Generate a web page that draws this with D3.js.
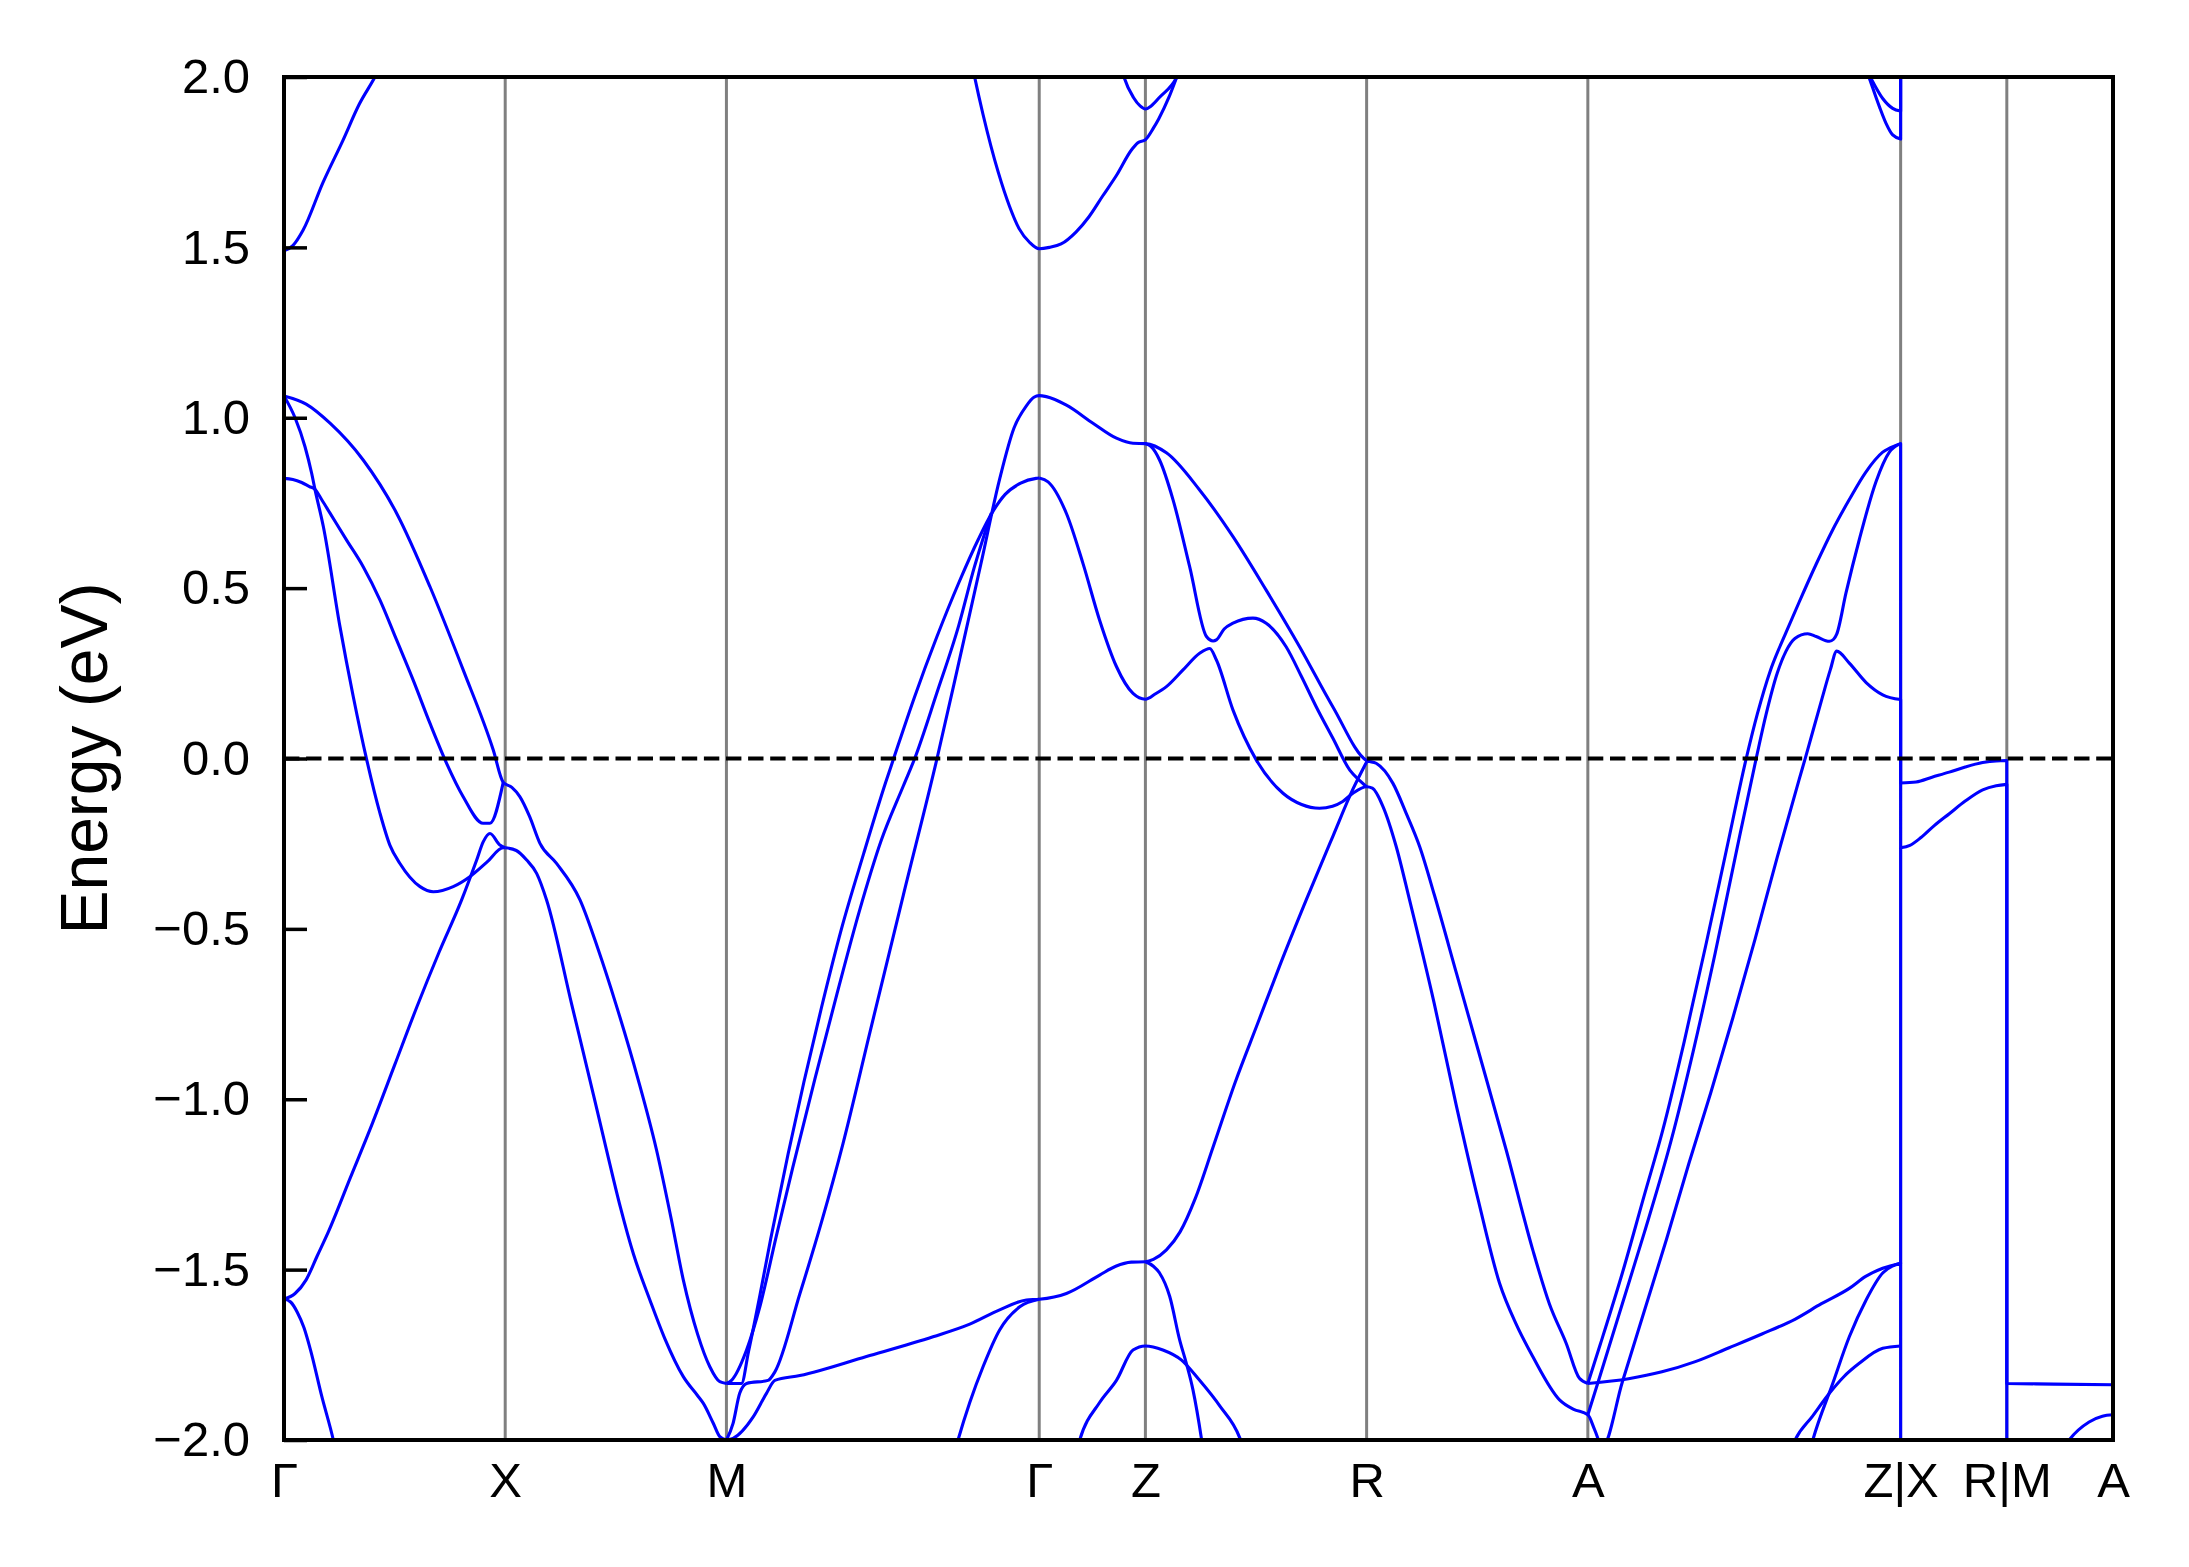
<!DOCTYPE html>
<html>
<head>
<meta charset="utf-8">
<script src="https://cdn.jsdelivr.net/npm/d3@7"></script>
<style>
  html, body { margin: 0; padding: 0; background: #fff; }
  svg { display: block; font-family: "Liberation Sans", Arial, sans-serif; }
</style>
</head>
<body>
<div id="chart"></div>
<script>
// high-symmetry points along the k-path (cumulative distance) and their labels
const kTicks = [0, 1, 2, 3.414, 3.894, 4.894, 5.894, 7.308, 7.788, 8.268];
const kLabels = ['Γ', 'X', 'M', 'Γ', 'Z', 'R', 'A', 'Z|X', 'R|M', 'A'];
const yTicks = [-2, -1.5, -1, -0.5, 0, 0.5, 1, 1.5, 2];

// bands as [k, E] pairs; a repeated k is a jump at a path break
const gxUpper = [[0,1.49],[0.04,1.505],[0.086,1.55],[0.176,1.69],[0.267,1.815],[0.34,1.92],[0.411,2.0],[0.45,2.05]];
const gxOuter = [[0,1.064],[0.1,1.04],[0.208,0.984],[0.358,0.876],[0.509,0.72],[0.66,0.504],[0.81,0.26],[0.946,0.025],[0.991,-0.07],
  [1.03,-0.085],[1.066,-0.112],[1.11,-0.17],[1.157,-0.249],[1.232,-0.308],[1.338,-0.415],[1.42,-0.56],[1.5,-0.72],[1.6,-0.94],
  [1.684,-1.149],[1.75,-1.35],[1.805,-1.53],[1.87,-1.69],[1.925,-1.785],[1.97,-1.829],[2.0,-1.834]];
const gxSteep = [[0,1.064],[0.05,1.0],[0.095,0.915],[0.125,0.837],[0.14,0.79],[0.178,0.68],[0.253,0.387],[0.313,0.182],[0.374,-0.004],
  [0.434,-0.161],[0.479,-0.255],[0.524,-0.308],[0.615,-0.376],[0.675,-0.391],[0.765,-0.376],[0.84,-0.347],[0.916,-0.305],[0.991,-0.262],[1.0,-0.262]];
const gxMiddle = [[0,0.822],[0.04,0.819],[0.08,0.81],[0.115,0.798],[0.14,0.79],[0.17,0.76],[0.208,0.72],[0.283,0.641],[0.358,0.563],
  [0.434,0.465],[0.509,0.348],[0.584,0.23],[0.66,0.103],[0.735,-0.014],[0.81,-0.112],[0.9,-0.19],[0.931,-0.19],[0.991,-0.07]];
const gxLower = [[0,-1.586],[0.05,-1.57],[0.1,-1.53],[0.15,-1.46],[0.2,-1.39],[0.3,-1.23],[0.4,-1.07],[0.5,-0.90],[0.6,-0.73],
  [0.7,-0.57],[0.803,-0.415],[0.871,-0.298],[0.901,-0.244],[0.931,-0.22],[0.976,-0.254],[1.0,-0.262]];
const gxDown = [[0,-1.586],[0.03,-1.595],[0.06,-1.625],[0.09,-1.67],[0.12,-1.736],[0.17,-1.87],[0.223,-2.0],[0.24,-2.05]];
const xmLower = [[1.0,-0.262],[1.05,-0.27],[1.097,-0.298],[1.142,-0.337],[1.187,-0.415],[1.3,-0.72],[1.4,-0.99],[1.458,-1.149],
  [1.52,-1.315],[1.58,-1.455],[1.654,-1.589],[1.72,-1.70],[1.805,-1.814],[1.87,-1.87],[1.895,-1.892],[1.94,-1.95],[1.97,-1.99],[2.0,-2.0]];
const mgAlpha = [[2.0,-1.834],[2.068,-1.834],[2.1,-1.74],[2.15,-1.58],[2.2,-1.41],[2.279,-1.16],[2.35,-0.95],[2.43,-0.73],[2.52,-0.50],
  [2.62,-0.28],[2.72,-0.07],[2.756,0.0],[2.85,0.18],[2.95,0.355],[3.05,0.515],[3.14,0.645],[3.2,0.72],[3.26,0.775],[3.33,0.808],[3.4,0.822],[3.414,0.823]];
const mgBeta = [[2.0,-1.834],[2.023,-1.825],[2.091,-1.736],[2.151,-1.609],[2.226,-1.40],[2.3,-1.20],[2.4,-0.94],[2.5,-0.69],
  [2.6,-0.45],[2.7,-0.24],[2.8,-0.08],[2.851,0.0],[2.95,0.19],[3.05,0.39],[3.12,0.56],[3.197,0.72]];
const mgGammaChain = [[2.0,-2.0],[2.03,-1.951],[2.06,-1.863],[2.091,-1.834],[2.188,-1.825],[2.219,-1.80],[2.332,-1.571],[2.43,-1.36],
  [2.527,-1.13],[2.65,-0.80],[2.8,-0.40],[2.952,0.0],[3.05,0.28],[3.15,0.57],[3.235,0.82],[3.3,0.97],[3.356,1.035],[3.39,1.06],[3.414,1.065],
  [3.446,1.062],[3.537,1.037],[3.657,0.984],[3.763,0.94],[3.838,0.925],[3.894,0.924],
  [3.989,0.897],[4.139,0.788],[4.29,0.651],[4.44,0.494],[4.591,0.328],[4.741,0.152],[4.894,-0.006],
  [4.937,-0.014],[5.013,-0.073],[5.073,-0.161],[5.134,-0.259],[5.2,-0.40],[5.3,-0.63],[5.4,-0.86],[5.525,-1.149],[5.645,-1.442],
  [5.72,-1.60],[5.796,-1.716],[5.856,-1.819],[5.894,-1.834]];
const mzFlatChain = [[2.0,-2.0],[2.03,-1.995],[2.121,-1.932],[2.181,-1.863],[2.219,-1.825],[2.332,-1.811],[2.633,-1.755],[2.934,-1.697],
  [3.1,-1.66],[3.235,-1.618],[3.356,-1.589],[3.414,-1.587],[3.537,-1.57],[3.687,-1.516],[3.76,-1.49],[3.83,-1.478],[3.894,-1.477],
  [3.93,-1.47],[3.989,-1.442],[4.05,-1.39],[4.12,-1.29],[4.2,-1.14],[4.3,-0.95],[4.4,-0.78],[4.5,-0.61],[4.621,-0.415],[4.741,-0.229],
  [4.832,-0.09],[4.894,-0.01]];
const gLeftLow = [[3.03,-2.04],[3.047,-2.0],[3.1,-1.89],[3.16,-1.785],[3.235,-1.677],[3.326,-1.609],[3.414,-1.587]];
const gzLow = [[3.58,-2.04],[3.597,-2.0],[3.687,-1.89],[3.763,-1.825],[3.838,-1.736],[3.894,-1.724],[3.973,-1.736],[4.056,-1.765],
  [4.139,-1.825],[4.23,-1.90],[4.32,-1.993],[4.34,-2.03]];
const zrDown = [[3.894,-1.477],[3.93,-1.49],[3.958,-1.51],[4.004,-1.579],[4.049,-1.707],[4.079,-1.775],[4.109,-1.853],[4.147,-1.995],[4.155,-2.03]];
const gzMidChain = [[3.414,0.823],[3.454,0.812],[3.537,0.719],[3.612,0.572],[3.687,0.406],[3.763,0.27],[3.838,0.191],[3.894,0.174],
  [3.94,0.19],[3.989,0.211],[4.064,0.26],[4.139,0.309],[4.185,0.323],[4.215,0.289],[4.29,0.142],[4.395,-0.004],[4.516,-0.102],
  [4.6,-0.135],[4.681,-0.146],[4.74,-0.14],[4.786,-0.126],[4.832,-0.102],[4.894,-0.083],
  [4.92,-0.087],[4.968,-0.141],[5.028,-0.259],[5.088,-0.415],[5.2,-0.72],[5.3,-1.02],[5.4,-1.30],[5.495,-1.54],[5.57,-1.66],
  [5.645,-1.755],[5.766,-1.882],[5.83,-1.91],[5.894,-1.926],[5.925,-1.97],[5.96,-2.02],
  [6.05,-1.83],[6.15,-1.62],[6.25,-1.41],[6.35,-1.19],[6.45,-0.98],[6.55,-0.76],[6.65,-0.53],[6.75,-0.29],[6.85,-0.06],[6.881,0.01],
  [6.95,0.17],[6.99,0.26],[7.019,0.315],[7.076,0.28],[7.152,0.223],[7.227,0.187],[7.308,0.173],
  [7.308,-0.262],[7.35,-0.255],[7.4,-0.232],[7.46,-0.197],[7.528,-0.162],[7.6,-0.125],[7.679,-0.092],[7.74,-0.08],[7.788,-0.076],
  [7.788,-2.3],[7.9,-2.2],[8.0,-2.08],[8.07,-2.0],[8.16,-1.947],[8.22,-1.93],[8.268,-1.926]];
const zrBump = [[3.894,0.924],[3.92,0.915],[3.958,0.876],[4.019,0.759],[4.094,0.563],[4.17,0.358],[4.2,0.345],[4.215,0.348],
  [4.25,0.38],[4.29,0.397],[4.38,0.412],[4.44,0.397],[4.53,0.328],[4.6,0.24],[4.666,0.152],[4.741,0.06],[4.818,-0.034],[4.863,-0.065],[4.894,-0.083]];
const gzTopA = [[3.1,2.07],[3.122,2.0],[3.16,1.89],[3.229,1.72],[3.28,1.62],[3.323,1.555],[3.37,1.515],[3.414,1.496],[3.46,1.50],
  [3.513,1.51],[3.58,1.545],[3.639,1.59],[3.7,1.65],[3.765,1.713],[3.83,1.785],[3.86,1.807],[3.894,1.816],[3.93,1.85],[3.954,1.877],
  [4.0,1.94],[4.036,2.0],[4.06,2.04]];
const gzTopB = [[3.78,2.04],[3.797,2.0],[3.84,1.94],[3.87,1.915],[3.894,1.906],[3.92,1.915],[3.957,1.94],[4.036,2.0],[4.05,2.02]];
const azTopA = [[7.1,2.1],[7.174,1.996],[7.227,1.937],[7.272,1.908],[7.308,1.90],[7.308,2.3]];
const azTopB = [[7.1,2.12],[7.167,1.996],[7.212,1.913],[7.242,1.864],[7.272,1.83],[7.308,1.818],[7.308,2.3]];
const azFlat = [[5.894,-1.834],[6.078,-1.82],[6.229,-1.80],[6.38,-1.77],[6.53,-1.73],[6.681,-1.689],[6.832,-1.645],[6.95,-1.60],
  [7.076,-1.555],[7.15,-1.52],[7.227,-1.496],[7.308,-1.481],[7.308,-0.262]];
const azLowA = [[6.89,-2.05],[6.911,-2.0],[7.001,-1.834],[7.076,-1.697],[7.152,-1.589],[7.227,-1.51],[7.27,-1.49],[7.308,-1.481],[7.308,-2.3]];
const azLowB = [[6.8,-2.05],[6.831,-2.0],[6.91,-1.93],[6.986,-1.863],[7.05,-1.815],[7.121,-1.775],[7.227,-1.731],[7.308,-1.724]];
const azOuterChain = [[5.894,-1.834],[5.95,-1.72],[6.05,-1.51],[6.15,-1.28],[6.233,-1.09],[6.33,-0.83],[6.43,-0.54],[6.52,-0.27],
  [6.61,0.0],[6.66,0.13],[6.72,0.26],[6.79,0.37],[6.85,0.46],[6.926,0.57],[7.0,0.67],[7.076,0.76],[7.15,0.84],[7.227,0.899],
  [7.287,0.919],[7.308,0.924],
  [7.308,-0.072],[7.378,-0.069],[7.45,-0.055],[7.528,-0.04],[7.6,-0.025],[7.679,-0.012],[7.74,-0.007],[7.788,-0.006],
  [7.788,-1.834],[8.0,-1.836],[8.268,-1.838]];
const azBump = [[5.894,-1.926],[5.95,-1.81],[6.05,-1.60],[6.15,-1.39],[6.271,-1.12],[6.37,-0.86],[6.47,-0.57],[6.56,-0.29],
  [6.655,0.0],[6.70,0.13],[6.75,0.25],[6.79,0.315],[6.83,0.352],[6.888,0.366],[6.926,0.358],[6.986,0.344],
  [7.005,0.35],[7.019,0.365],[7.061,0.486],[7.121,0.642],[7.197,0.813],[7.257,0.899],[7.308,0.924]];

const bands = [gxUpper, gxOuter, gxSteep, gxMiddle, gxLower, gxDown, xmLower, mgAlpha, mgBeta, mgGammaChain,
  mzFlatChain, gLeftLow, gzLow, zrDown, gzMidChain, zrBump, gzTopA, gzTopB, azTopA, azTopB, azFlat, azLowA, azLowB,
  azOuterChain, azBump];

// canvas
const width = 2189, height = 1567;
const margin = {top: 77, right: 76, bottom: 127, left: 284};

const svg = d3.select('#chart')
  .append('svg')
  .attr('width', width)
  .attr('height', height);

const x = d3.scaleLinear().domain([0, kTicks[kTicks.length - 1]]).range([margin.left, width - margin.right]);
const y = d3.scaleLinear().domain([-2, 2]).range([height - margin.bottom, margin.top]);

svg.append('clipPath').attr('id', 'plot-clip')
  .append('rect')
  .attr('x', margin.left).attr('y', margin.top)
  .attr('width', x.range()[1] - margin.left)
  .attr('height', y.range()[0] - margin.top);

// vertical lines at high-symmetry points
svg.append('g')
  .selectAll('line')
  .data(kTicks.slice(1, -1))
  .enter()
  .append('line')
  .attr('x1', d => x(d)).attr('x2', d => x(d))
  .attr('y1', y(2)).attr('y2', y(-2))
  .attr('stroke', '#808080')
  .attr('stroke-width', 3);

// split a band into smooth runs, joining runs with straight jumps
const lineGen = d3.line().x(d => x(d[0])).y(d => y(d[1])).curve(d3.curveMonotoneX);
function bandPath(pts) {
  const runs = [[pts[0]]];
  for (let i = 1; i < pts.length; i++) {
    if (pts[i][0] === pts[i - 1][0]) runs.push([pts[i]]);
    else runs[runs.length - 1].push(pts[i]);
  }
  return runs.map((r, i) => {
    let d = r.length > 1 ? lineGen(r) : `M${x(r[0][0])},${y(r[0][1])}`;
    return i === 0 ? d : 'L' + d.slice(1);
  }).join('');
}

svg.append('g')
  .attr('clip-path', 'url(#plot-clip)')
  .selectAll('path')
  .data(bands)
  .enter()
  .append('path')
  .attr('d', bandPath)
  .attr('fill', 'none')
  .attr('stroke', '#0000ff')
  .attr('stroke-width', 3.1)
  .attr('stroke-linejoin', 'round');

// Fermi level
svg.append('line')
  .attr('x1', x.range()[0]).attr('x2', x.range()[1])
  .attr('y1', y(0)).attr('y2', y(0))
  .attr('stroke', '#000')
  .attr('stroke-width', 4)
  .attr('stroke-dasharray', '15.4,6.7');

// y axis with inward ticks
const yAxis = svg.append('g')
  .attr('transform', `translate(${margin.left},0)`)
  .call(d3.axisLeft(y).tickValues(yTicks).tickFormat(d3.format('.1f')).tickSize(-23).tickPadding(34));
yAxis.select('.domain').remove();
yAxis.selectAll('line').attr('stroke', '#000').attr('stroke-width', 3.5);
yAxis.selectAll('text').attr('font-size', 49).attr('fill', '#000')
  .attr('font-family', '"Liberation Sans", Arial, sans-serif');

// x axis labels
const xAxis = svg.append('g')
  .attr('transform', `translate(0,${y(-2)})`)
  .call(d3.axisBottom(x).tickValues(kTicks).tickFormat((d, i) => kLabels[i]).tickSize(0).tickPadding(22));
xAxis.select('.domain').remove();
xAxis.selectAll('text').attr('font-size', 49).attr('fill', '#000')
  .attr('font-family', '"Liberation Sans", Arial, sans-serif');

// frame
svg.append('rect')
  .attr('x', margin.left).attr('y', margin.top)
  .attr('width', x.range()[1] - margin.left)
  .attr('height', y.range()[0] - margin.top)
  .attr('fill', 'none')
  .attr('stroke', '#000')
  .attr('stroke-width', 4);

// y label
svg.append('text')
  .attr('transform', `translate(107,${(margin.top + y.range()[0]) / 2}) rotate(-90)`)
  .attr('text-anchor', 'middle')
  .attr('font-size', 66)
  .text('Energy (eV)');
</script>
</body>
</html>
